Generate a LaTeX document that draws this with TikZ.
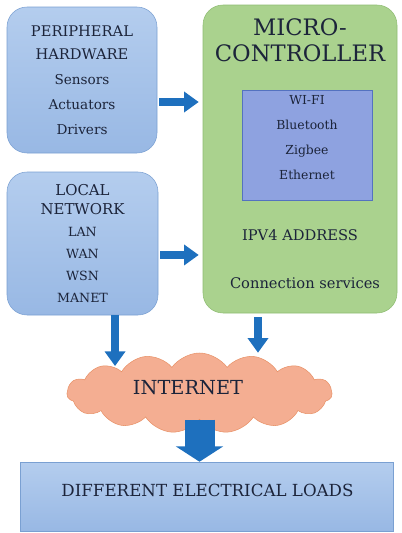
\documentclass[tikz,border=0pt]{standalone}
\usepackage{fontspec}
\setmainfont{DejaVu Serif}
\usetikzlibrary{arrows.meta, shapes.symbols}
\definecolor{arrowblue}{RGB}{30,112,190}
\definecolor{textnavy}{RGB}{28,36,58}
\definecolor{boxtop}{RGB}{180,205,238}
\definecolor{boxbot}{RGB}{152,184,228}
\definecolor{boxline}{RGB}{122,160,210}
\definecolor{mcgreen}{RGB}{170,210,142}
\definecolor{mcline}{RGB}{142,188,114}
\definecolor{radiofill}{RGB}{142,162,224}
\definecolor{radioline}{RGB}{84,114,192}
\definecolor{cloudfill}{RGB}{244,174,146}
\definecolor{cloudline}{RGB}{232,146,104}

\begin{document}
\begin{tikzpicture}[x=0.75pt,y=-0.75pt,
  bluebox/.style={draw=boxline, top color=boxtop, bottom color=boxbot, text=textnavy, align=center},
  txt/.style={text=textnavy, align=center},
  fat/.style={draw=arrowblue, line width=6.5pt, -{Triangle[length=11pt,width=15pt]}},
  bigfat/.style={draw=arrowblue, line width=22.5pt, -{Triangle[length=11.5pt,width=35pt]}}]
\useasboundingbox (0,0) rectangle (401,533);

% left boxes
\node[bluebox, rounded corners=15pt, minimum width=112.5pt, minimum height=109.5pt,
  font=\fontsize{10.2}{18.75}\selectfont] (periph) at (82,80)
  {{\fontsize{11}{15}\selectfont PERIPHERAL}\\[-1.5pt]{\fontsize{11}{15}\selectfont HARDWARE}\\Sensors\\Actuators\\Drivers};
\node[bluebox, rounded corners=15pt, minimum width=113.25pt, minimum height=107.25pt,
  font=\fontsize{9.5}{16.5}\selectfont] (local) at (82.5,243.5)
  {{\fontsize{11.2}{14}\selectfont LOCAL}\\[-2.25pt]{\fontsize{11.2}{14}\selectfont NETWORK}\\LAN\\WAN\\WSN\\MANET};

% micro-controller
\node[draw=mcline, fill=mcgreen, rounded corners=15pt, minimum width=145.5pt, minimum height=231pt] (micro) at (300,159) {};
\node[txt, font=\fontsize{17}{19.5}\selectfont] (microT) at (300,40) {MICRO-\\CONTROLLER};
\node[draw=radioline, fill=radiofill, minimum width=97.5pt, minimum height=82.5pt] (radio) at (307,145) {};
\node[txt, font=\fontsize{9.3}{18.75}\selectfont] (radioT) at (307,138) {WI-FI\\Bluetooth\\Zigbee\\Ethernet};
\node[txt, font=\fontsize{11}{15}\selectfont] (ipv4) at (300,235) {IPV4 ADDRESS};
\node[txt, font=\fontsize{11}{15}\selectfont] (conn) at (305,283) {Connection services};

% internet and loads
\node[cloud, cloud puffs=15, cloud puff arc=110, aspect=3.3, draw=cloudline, fill=cloudfill,
  minimum width=198.75pt, minimum height=60pt] (cloud) at (199.5,393) {};
\node[txt, font=\fontsize{14.5}{20}\selectfont] (cloudT) at (188,388) {INTERNET};
\node[bluebox, minimum width=279.75pt, minimum height=51.75pt] (loads) at (206.5,496.5) {};
\node[txt, font=\fontsize{12.5}{16}\selectfont] (loadsT) at (207.5,490) {DIFFERENT ELECTRICAL LOADS};

% arrows
\draw[fat, shorten <=1.5pt, shorten >=3pt] ([yshift=-16.5pt]periph.east) -- ([yshift=-16.5pt]periph.east -| micro.west);
\draw[fat, shorten <=1.5pt, shorten >=3pt] ([yshift=-8.6pt]local.east) -- ([yshift=-8.6pt]local.east -| micro.west);
\draw[fat] ([xshift=24.4pt]local.south) -- ([xshift=24.4pt]local.south |- cloud.160);
\draw[fat, shorten <=3pt] ([xshift=-31.5pt]micro.south) -- ([xshift=-31.5pt]micro.south |- cloud.north);
\draw[bigfat] (cloud.south) -- (cloud.south |- loads.north);
\end{tikzpicture}
\end{document}
